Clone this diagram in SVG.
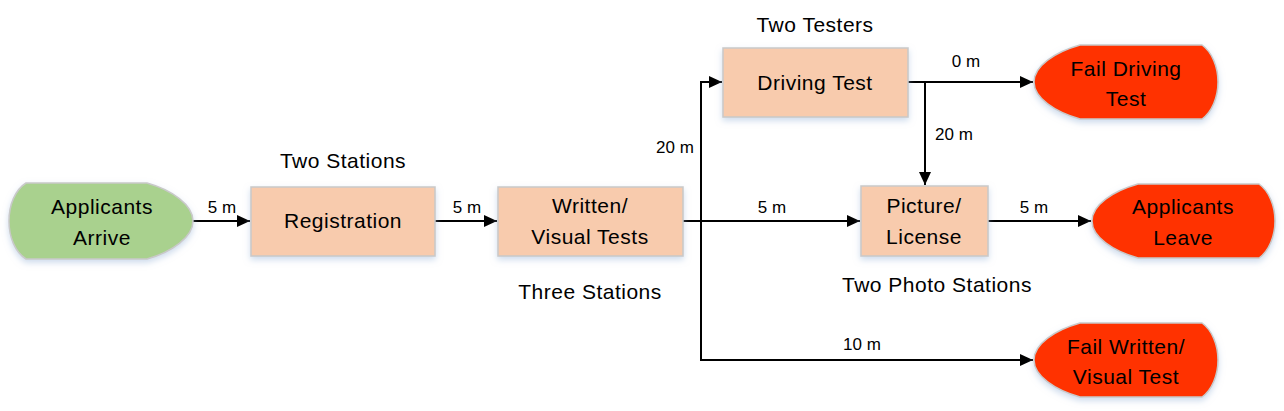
<svg xmlns="http://www.w3.org/2000/svg" width="1284" height="411" viewBox="0 0 1284 411">
<style>
.proc{fill:#F8CBAD;stroke:#C9C9C9;stroke-width:1.5}
.start{fill:#A9D18E;stroke:#C9C9C9;stroke-width:1.5}
.end{fill:#FF3300;stroke:#C9C9C9;stroke-width:1.5}
.t{font-family:"Liberation Sans",Arial,sans-serif;font-size:21px;fill:#000;text-anchor:middle;letter-spacing:0.5px}
.lbl{font-family:"Liberation Sans",Arial,sans-serif;font-size:17px;fill:#000;text-anchor:middle}
.c{fill:none;stroke:#000;stroke-width:2}
</style>
<defs>
<filter id="sh" x="-10%" y="-10%" width="120%" height="130%">
<feDropShadow dx="0" dy="3" stdDeviation="3" flood-color="#9DB7DA" flood-opacity="0.5"/>
</filter>
<marker id="arr" markerUnits="userSpaceOnUse" markerWidth="14" markerHeight="12" refX="13" refY="6" orient="auto">
<path d="M0,0 L13,6 L0,12 Z" fill="#000"/>
</marker>
</defs>
<rect width="1284" height="411" fill="#fff"/>
<g id="connectors">
<path class="c" d="M193,221 H250" marker-end="url(#arr)"/>
<path class="c" d="M435,221 H497" marker-end="url(#arr)"/>
<path class="c" d="M683,221 H860" marker-end="url(#arr)"/>
<path class="c" d="M683,221 H701 V82 H722" marker-end="url(#arr)"/>
<path class="c" d="M701,221 V360 H1033" marker-end="url(#arr)"/>
<path class="c" d="M908,82 H1033" marker-end="url(#arr)"/>
<path class="c" d="M925,82 V185" marker-end="url(#arr)"/>
<path class="c" d="M988,221 H1091" marker-end="url(#arr)"/>
<text class="lbl" x="222" y="213">5 m</text>
<text class="lbl" x="467" y="213">5 m</text>
<text class="lbl" x="772" y="213">5 m</text>
<text class="lbl" x="675" y="153">20 m</text>
<text class="lbl" x="862" y="350">10 m</text>
<text class="lbl" x="966" y="67">0 m</text>
<text class="lbl" x="954" y="140">20 m</text>
<text class="lbl" x="1034" y="213">5 m</text>
</g>
<g id="applicants-arrive">
<path class="start" filter="url(#sh)" d="M26,183 H147 C172,190 193,205 193,221 C193,237 172,252 147,259 H26 C15,252 9,237 9,221 C9,205 15,190 26,183 Z"/>
<text class="t" x="102" y="214">Applicants</text>
<text class="t" x="102" y="245">Arrive</text>
</g>
<g id="registration">
<rect class="proc" filter="url(#sh)" x="251" y="187" width="184" height="69"/>
<text class="t" x="343" y="228">Registration</text>
<text class="t" x="343" y="168">Two Stations</text>
</g>
<g id="written-visual">
<rect class="proc" filter="url(#sh)" x="498" y="187" width="185" height="69"/>
<text class="t" x="590" y="213">Written/</text>
<text class="t" x="590" y="244">Visual Tests</text>
<text class="t" x="590" y="299">Three Stations</text>
</g>
<g id="driving-test">
<rect class="proc" filter="url(#sh)" x="723" y="48" width="185" height="69"/>
<text class="t" x="815" y="90">Driving Test</text>
<text class="t" x="815" y="32">Two Testers</text>
</g>
<g id="picture-license">
<rect class="proc" filter="url(#sh)" x="861" y="186" width="127" height="70"/>
<text class="t" x="924" y="213">Picture/</text>
<text class="t" x="924" y="244">License</text>
<text class="t" x="937" y="292">Two Photo Stations</text>
</g>
<g id="fail-driving">
<path class="end" filter="url(#sh)" d="M1080,45 H1202 C1212,52 1218,67 1218,82 C1218,97 1212,112 1202,119 H1080 C1055,112 1034,98 1034,82 C1034,66 1055,52 1080,45 Z"/>
<text class="t" x="1126" y="76">Fail Driving</text>
<text class="t" x="1126" y="106">Test</text>
</g>
<g id="applicants-leave">
<path class="end" filter="url(#sh)" d="M1138,184 H1259 C1269,191 1275,206 1275,221 C1275,236 1269,251 1259,258 H1138 C1113,251 1092,237 1092,221 C1092,205 1113,191 1138,184 Z"/>
<text class="t" x="1183" y="214">Applicants</text>
<text class="t" x="1183" y="245">Leave</text>
</g>
<g id="fail-written">
<path class="end" filter="url(#sh)" d="M1080,323 H1202 C1212,330 1218,345 1218,360 C1218,375 1212,390 1202,397 H1080 C1055,390 1034,376 1034,360 C1034,344 1055,330 1080,323 Z"/>
<text class="t" x="1126" y="354">Fail Written/</text>
<text class="t" x="1126" y="384">Visual Test</text>
</g>
</svg>
